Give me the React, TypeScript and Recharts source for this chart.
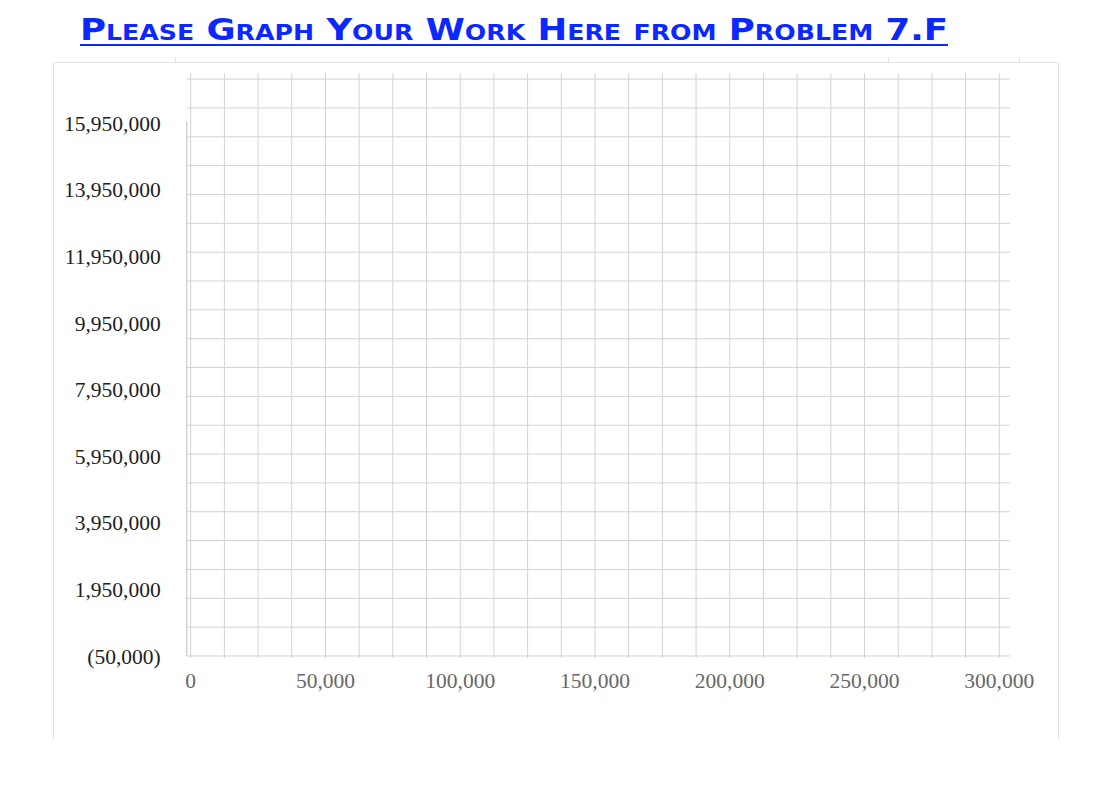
import { ScatterChart, Scatter, XAxis, YAxis, CartesianGrid, ReferenceLine } from 'recharts'

// Empty worksheet graph: no plotted points, only the grid and axis labels.
const points: { x: number; y: number }[] = []

const xDomain: [number, number] = [-1480, 303970]
const xTicks = [
  0, 12500, 25000, 37500, 50000, 62500, 75000, 87500, 100000, 112500, 125000, 137500, 150000,
  162500, 175000, 187500, 200000, 212500, 225000, 237500, 250000, 262500, 275000, 287500, 300000,
]
const xLabelStep = 50000

const yDomain: [number, number] = [-110000, 17450000]
const yTicks = [-50000, 1950000, 3950000, 5950000, 7950000, 9950000, 11950000, 13950000, 15950000]
const yAxisLineTop = 16000000

// horizontal rulings are on their own evenly spaced scale (20 rows)
const gridDomain: [number, number] = [-0.07, 20.2]
const gridRows = [0, 1, 2, 3, 4, 5, 6, 7, 8, 9, 10, 11, 12, 13, 14, 15, 16, 17, 18, 19, 20]

const title = 'Please Graph Your Work Here from Problem 7.F'

const fmtY = (v: number) =>
  v < 0 ? `(${Math.abs(v).toLocaleString('en-US')})` : v.toLocaleString('en-US')
const fmtX = (v: number) => (v % xLabelStep === 0 ? v.toLocaleString('en-US') : '')

const gridColor = '#d2d2d2'

export default function App() {
  return (
    <div style={{ position: 'absolute', left: 0, top: 0, width: 1094, height: 794, background: '#fff' }}>
      {/* title */}
      <svg width={1094} height={60} style={{ position: 'absolute', left: 0, top: 0 }}>
        <text
          x={80}
          y={40}
          textLength={868}
          lengthAdjust="spacingAndGlyphs"
          fill="#0a28ff"
          style={{ fontFamily: '"DejaVu Sans", sans-serif', fontWeight: 700, fontSize: 31, fontVariant: 'small-caps' }}
        >
          {title}
        </text>
        <rect x={80} y={44} width={868} height={2} fill="#0a28ff" />
      </svg>

      {/* page frame around the graph */}
      <div
        style={{
          position: 'absolute',
          left: 53,
          top: 62,
          width: 1004,
          height: 676,
          borderTop: '1px solid #e2e2e2',
          borderLeft: '1px solid #e2e2e2',
          borderRight: '1px solid #e2e2e2',
        }}
      />
      {[175, 888, 1019].map(x => (
        <div key={x} style={{ position: 'absolute', left: x, top: 57, width: 1, height: 5, background: '#e2e2e2' }} />
      ))}

      <div style={{ position: 'absolute', left: 0, top: 0 }}>
        <ScatterChart width={1094} height={794} margin={{ top: 73.3, right: 84, bottom: 96, left: 56.7 }}>
          <CartesianGrid yAxisId="grid" syncWithTicks stroke={gridColor} strokeWidth={1} />
          <XAxis
            type="number"
            dataKey="x"
            domain={xDomain}
            ticks={xTicks}
            interval={0}
            allowDataOverflow
            tickFormatter={fmtX}
            axisLine={false}
            tickLine={false}
            tickSize={0}
            tickMargin={15}
            height={40}
            tick={{ fill: '#676767', fontSize: 21.5, fontFamily: '"Liberation Serif", serif' }}
          />
          <YAxis
            type="number"
            dataKey="y"
            domain={yDomain}
            ticks={yTicks}
            interval={0}
            allowDataOverflow
            tickFormatter={fmtY}
            axisLine={false}
            tickLine={false}
            tickSize={0}
            tickMargin={26}
            width={130}
            tick={{ fill: '#1e1e1e', fontSize: 21.5, fontFamily: '"Liberation Serif", serif' }}
          />
          <YAxis yAxisId="grid" type="number" domain={gridDomain} ticks={gridRows} interval={0} allowDataOverflow hide />
          <ReferenceLine
            segment={[
              { x: xDomain[0], y: yAxisLineTop },
              { x: xDomain[0], y: yTicks[0] },
            ]}
            stroke={gridColor}
            strokeWidth={1.5}
          />
          <Scatter data={points} fill="#000" isAnimationActive={false} />
        </ScatterChart>
      </div>
    </div>
  )
}
